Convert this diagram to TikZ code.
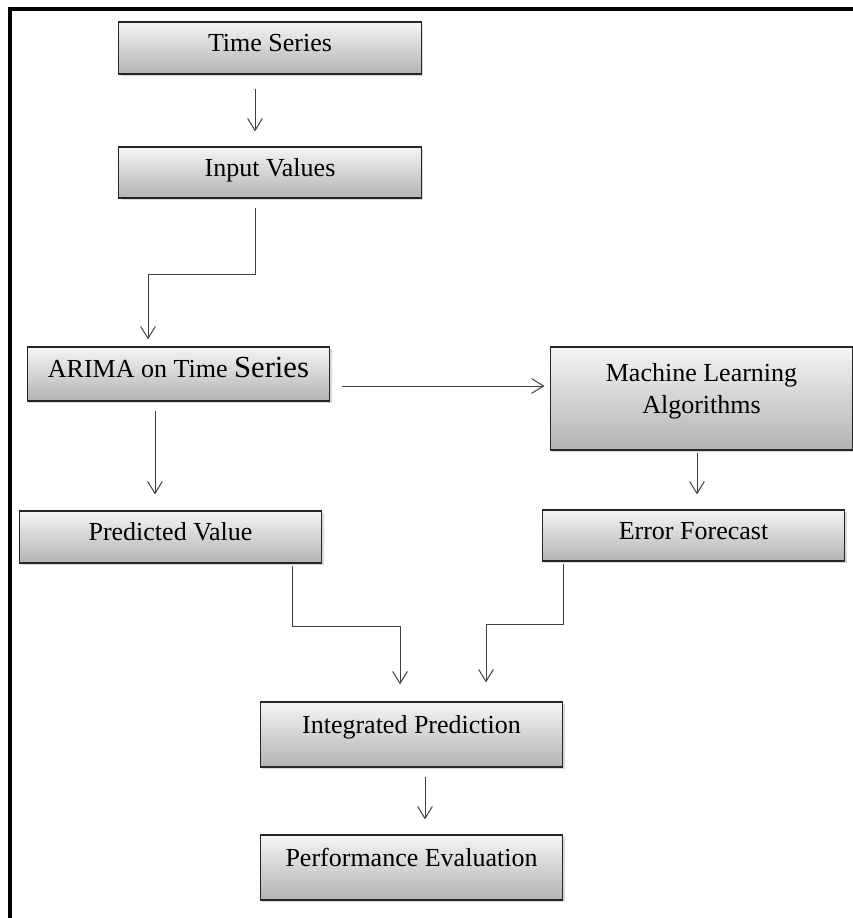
\documentclass[tikz,border=0pt]{standalone}
\usepackage{fontspec}
\setmainfont{Liberation Serif}
\usetikzlibrary{arrows.meta, shadows, calc}

\begin{document}
\begin{tikzpicture}[
    x=0.75pt, y=-0.75pt,
    box/.style={draw=black!85, line width=0.9pt, top color=black!4, bottom color=black!30,
        drop shadow={shadow xshift=1.5pt, shadow yshift=-1.5pt, opacity=0.3},
        minimum width=227pt, minimum height=39pt, inner sep=0pt, align=center,
        font=\fontsize{19.5}{24.5}\selectfont, text height=14pt, text depth=8.7pt},
    arrow/.style={draw=black!75, line width=0.75pt, -{Straight Barb[length=9pt,width=11pt]}}
]

\useasboundingbox (0,0) rectangle (853,918);

% Outer frame (top and left only)
\draw[line width=3pt] (9.5,918) -- (9.5,8.5) -- (853,8.5);

% Boxes
\node[box] (ts) at (270,48) {Time Series};
\node[box, minimum height=38.25pt] (iv) at (270,172.5) {Input Values};
\node[box, minimum height=40.5pt] (arima) at (178.5,374) {ARIMA on Time {\fontsize{23}{24.5}\selectfont Series}};
\node[box, minimum height=77.25pt, text height=, text depth=] (ml) at (701.5,398.5) {Machine Learning\\Algorithms\\[-17pt]\strut};
\node[box] (pv) at (170.5,537) {Predicted Value};
\node[box, minimum height=38.25pt] (ef) at (693.5,535.5) {Error Forecast};
\node[box, minimum height=48.75pt, text depth=16.2pt] (ip) at (411.5,734.5) {Integrated Prediction};
\node[box, minimum height=48.75pt, text depth=16.2pt] (pe) at (411.5,867.5) {Performance Evaluation};

% Connectors
\draw[arrow] ($(ts.south)+(-15,14)$) -- ($(iv.north)+(-15,-15)$);
\draw[arrow] ($(iv.south)+(-15,9)$) -- ++(0,67) -| ($(arima.north)+(-30.5,-7)$);
\draw[arrow] ($(arima.east)+(12,12)$) -- ($(arima.east -| ml.west)+(-5,12)$);
\draw[arrow] ($(arima.south)+(-23.5,9)$) -- ($(pv.north)+(-15.5,-16)$);
\draw[arrow] ($(ml.south)+(-4.5,2)$) -- ($(ef.north)+(3.5,-15)$);
\draw[arrow] ($(pv.south)+(121.5,2)$) -- ++(0,61) -| ($(ip.north)+(-11.5,-17)$);
\draw[arrow] ($(ef.south)+(-130.5,2)$) -- ++(0,61) -| ($(ip.north)+(74.5,-19)$);
\draw[arrow] ($(ip.south)+(13.5,9)$) -- ($(pe.north)+(13.5,-15)$);

\end{tikzpicture}
\end{document}
